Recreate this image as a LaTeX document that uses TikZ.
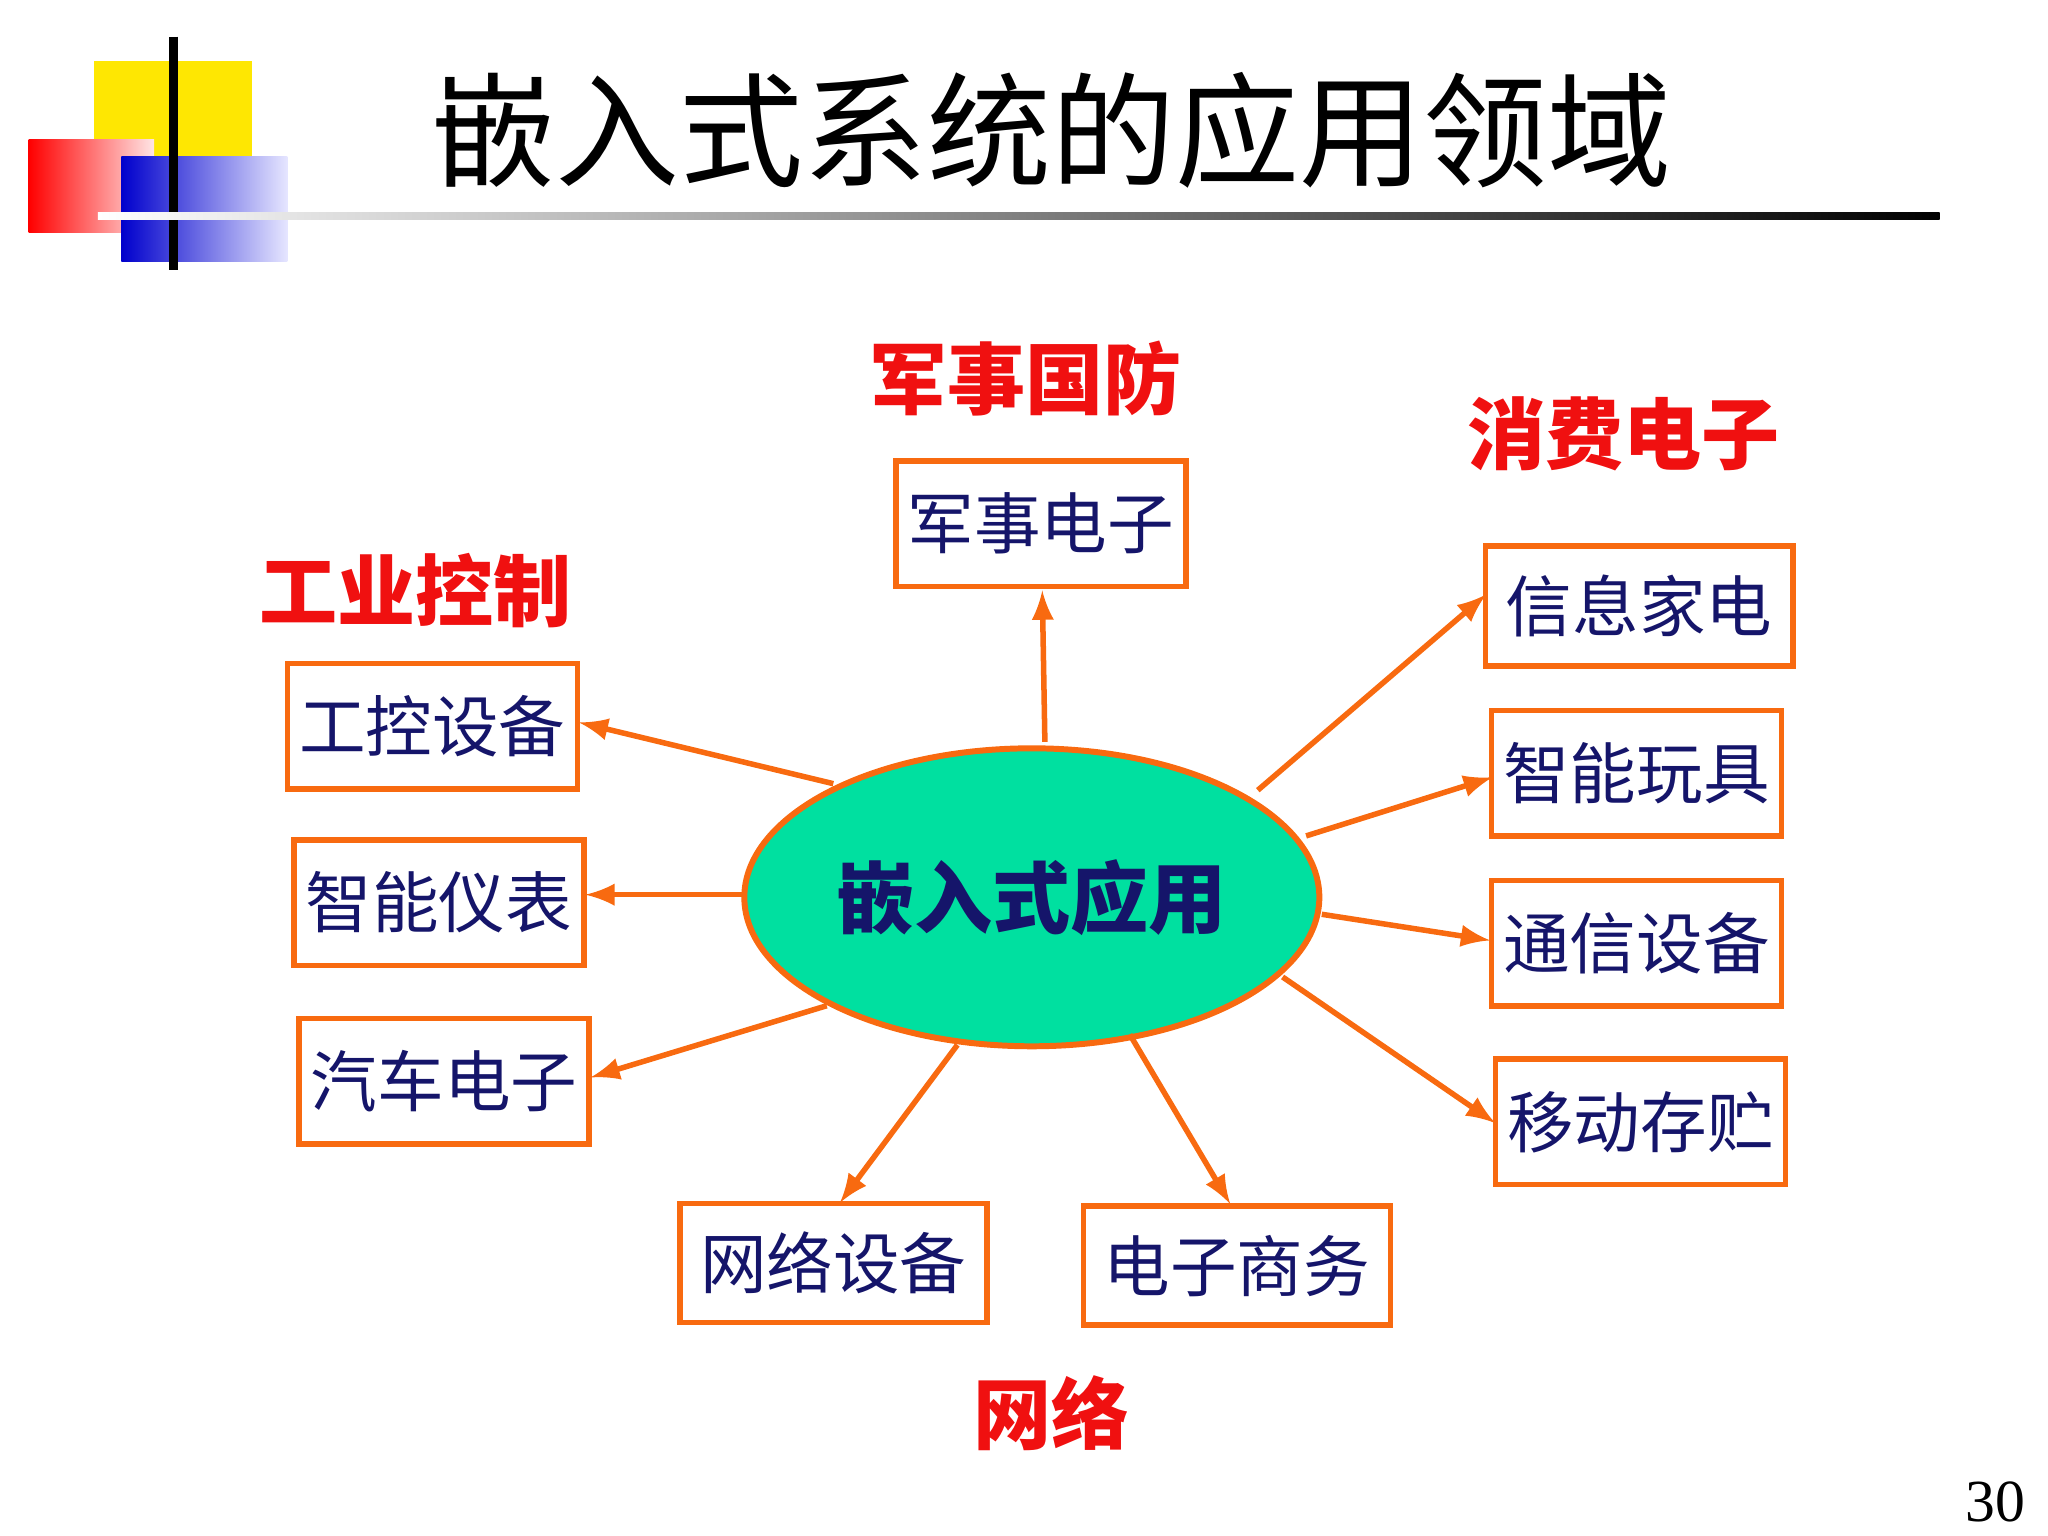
\documentclass[tikz,border=0pt]{standalone}
\usepackage{fontspec}
\newfontfamily\cjk{Noto Sans CJK SC}
\setmainfont{Liberation Serif}
\definecolor{org}{HTML}{F86A10}
\definecolor{nav}{HTML}{15156A}
\definecolor{cred}{HTML}{F01010}
\definecolor{tealf}{HTML}{00E0A0}
\usetikzlibrary{shapes.geometric}
\begin{document}
\begin{tikzpicture}[x=0.01cm,y=-0.01cm,
  box/.style={draw=org,line width=1.2pt,minimum width=#1,minimum height=0.96cm,inner sep=0pt,font=\cjk\fontsize{14.5}{15}\selectfont,text=nav},
  box/.default=2.22cm,
  cat/.style={font=\cjk\bfseries\fontsize{17}{18}\selectfont,text=cred},
  arr/.style={draw=org,line width=1.2pt,-latex}]
\useasboundingbox (0,0) rectangle (1568,1176);
% logo
\fill[yellow!90!orange] (72,47) rectangle (193,120);
\shade[left color=red, right color=red!10] (22,107) rectangle (118,178);
\shade[left color=blue!80!black, right color=blue!10] (93,120) rectangle (220,200);
\draw[line width=2pt] (133,28) -- (133,207);
\shade[left color=white, right color=black] (75,163) rectangle (1485,168);
\node[font=\cjk\fontsize{27}{28}\selectfont] (title) at (805,100) {嵌入式系统的应用领域};
\node[font=\fontsize{13}{14}\selectfont] (pg) at (1528,1150) {30};
% center
\node[ellipse,draw=org,line width=1.3pt,fill=tealf,inner sep=0pt,minimum width=4.4cm,minimum height=2.28cm,font=\cjk\bfseries\fontsize{17}{18}\selectfont,text=nav] (c) at (790,687) {嵌入式应用};
% boxes
\node[box] (b1) at (797,401) {军事电子};
\node[box] (b2) at (331,556) {工控设备};
\node[box] (b3) at (336,691) {智能仪表};
\node[box] (b4) at (340,828) {汽车电子};
\node[box=2.35cm,minimum height=0.91cm] (b5) at (638,967) {网络设备};
\node[box=2.35cm,minimum height=0.91cm] (b6) at (947,969) {电子商务};
\node[box=2.35cm,minimum height=0.92cm] (b7) at (1255,464) {信息家电};
\node[box] (b8) at (1253,592) {智能玩具};
\node[box] (b9) at (1253,722) {通信设备};
\node[box] (b10) at (1256,859) {移动存贮};
% categories
\node[cat] (k1) at (785,290) {军事国防};
\node[cat] (k2) at (1243,332) {消费电子};
\node[cat] (k3) at (318,452) {工业控制};
\node[cat] (k4) at (805,1082) {网络};
% arrows
\coordinate (s1) at (800,568); \coordinate (e1) at (798,452);
\coordinate (s2) at (638,600); \coordinate (e2) at (443,553);
\coordinate (s3) at (568,685); \coordinate (e3) at (448,685);
\coordinate (s4) at (633,770); \coordinate (e4) at (452,825);
\coordinate (s5) at (733,800); \coordinate (e5) at (643,921);
\coordinate (s6) at (865,792); \coordinate (e6) at (942,922);
\coordinate (s7) at (963,605); \coordinate (e7) at (1138,455);
\coordinate (s8) at (1000,640); \coordinate (e8) at (1143,595);
\coordinate (s9) at (1012,700); \coordinate (e9) at (1141,720);
\coordinate (s10) at (982,748); \coordinate (e10) at (1145,860);
\foreach \i in {1,...,10} {\draw[arr] (s\i) -- (e\i);}
\end{tikzpicture}
\end{document}
